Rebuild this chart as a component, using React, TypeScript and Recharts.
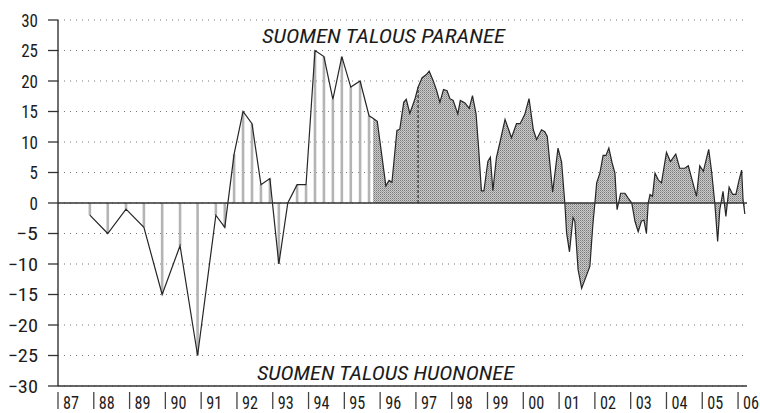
import {
  ComposedChart,
  Line,
  Area,
  XAxis,
  YAxis,
  CartesianGrid,
  ReferenceLine,
} from 'recharts';

// semiannual / quarterly readings 1987–1995 (hatched part)
const earlyYears = [
  1987.89, 1988.39, 1988.9, 1989.4, 1989.91, 1990.41, 1990.9, 1991.41, 1991.66, 1991.92,
  1992.17, 1992.42, 1992.67, 1992.92, 1993.17, 1993.42, 1993.68, 1993.93, 1994.18, 1994.43,
  1994.68, 1994.93, 1995.18, 1995.44, 1995.69,
];
const earlyValues = [
  -2, -5, -1, -4, -15, -7, -25, -2, -4, 8, 15, 13, 3, 4, -10, 0, 3, 3, 25, 24, 17, 24, 19, 20,
  14.3,
];

// monthly readings from late 1995 on (shaded part)
const monthlyYears = [
  1995.8, 1995.92, 1996.16, 1996.25, 1996.33, 1996.47, 1996.55, 1996.66, 1996.73, 1996.83,
  1996.97, 1997.06, 1997.17, 1997.3, 1997.37, 1997.48, 1997.58, 1997.67, 1997.77, 1997.87,
  1997.95, 1998.04, 1998.17, 1998.24, 1998.37, 1998.49, 1998.58, 1998.68, 1998.75, 1998.83,
  1998.9, 1999.01, 1999.08, 1999.15, 1999.25, 1999.35, 1999.49, 1999.67, 1999.81, 1999.91,
  2000.04, 2000.16, 2000.28, 2000.37, 2000.51, 2000.6, 2000.67, 2000.82, 2000.97, 2001.07,
  2001.16, 2001.21, 2001.29, 2001.39, 2001.44, 2001.53, 2001.63, 2001.86, 2001.94, 2002.0,
  2002.05, 2002.14, 2002.23, 2002.31, 2002.39, 2002.48, 2002.56, 2002.62, 2002.72, 2002.84,
  2002.93, 2003.03, 2003.12, 2003.21, 2003.3, 2003.37, 2003.44, 2003.49, 2003.54, 2003.61,
  2003.68, 2003.77, 2003.86, 2004.0, 2004.11, 2004.26, 2004.37, 2004.51, 2004.61, 2004.84,
  2004.93, 2005.03, 2005.18, 2005.26, 2005.35, 2005.43, 2005.49, 2005.58, 2005.66, 2005.75,
  2005.85, 2005.94, 2006.03, 2006.1, 2006.14, 2006.19,
];
const monthlyValues = [
  13.9, 13.4, 2.8, 3.7, 3.4, 11.9, 12.1, 16.5, 17, 14.7,
  17, 19, 20.5, 21.1, 21.6, 20.1, 18.4, 16.5, 18.6, 18.4,
  17.1, 16.8, 14.6, 16.8, 16.4, 15.5, 17.6, 14.6, 9.1, 2,
  2, 6.8, 7.5, 2, 7.5, 10, 13.7, 10.7, 13, 13,
  14.5, 17.1, 12, 10.4, 12, 11.7, 10.9, 1.8, 9, 6.7,
  0, -4.9, -8, -2.4, -3, -10.9, -14, -10.4, -3.8, 0,
  3.3, 4.9, 7.8, 7.8, 9, 6.6, 4.9, -1.1, 1.6, 1.6,
  0.8, 0, -3, -4.7, -3, -2.8, -5, 0, 1.4, 1.1,
  4.9, 3.8, 3.3, 8.3, 6.8, 8, 5.7, 5.7, 6.1, 1.1,
  6.1, 5.2, 8.8, 5.2, 0, -6.3, -1.1, 1.9, -2.2, 2.6,
  1.4, 1.4, 3.8, 5.4, 0.5, -1.8,
];

const yearTicks = [
  1987, 1988, 1989, 1990, 1991, 1992, 1993, 1994, 1995, 1996, 1997, 1998, 1999, 2000, 2001,
  2002, 2003, 2004, 2005, 2006,
];
const valueTicks = [-30, -25, -20, -15, -10, -5, 0, 5, 10, 15, 20, 25, 30];
const xDomain: [number, number] = [1987, 2006.25];
const yDomain: [number, number] = [-30, 30];
const markerYear = 1997.06;
const markerValue = 19;

const topLabel = 'SUOMEN TALOUS PARANEE';
const bottomLabel = 'SUOMEN TALOUS HUONONEE';

const early = earlyYears.map((x, i) => ({ x, v: earlyValues[i] }));
const monthly = monthlyYears.map((x, i) => ({ x, v: monthlyValues[i] }));
const all = [...early, ...monthly];

const FONT = "'Roboto Condensed', 'Arial Narrow', Roboto, sans-serif";
const INK = '#1c1c1c';
const FRAME = '#333';

function YearTick({ x, y, payload }: any) {
  const label = String(payload.value).slice(2);
  return (
    <g>
      <line x1={x} x2={x} y1={y + 6} y2={y + 23} stroke="#444" strokeWidth={1.3} />
      <text
        x={x + 5}
        y={y + 22.5}
        fontSize={18.5}
        fill={INK}
        fontFamily={FONT}
        textLength={16}
        lengthAdjust="spacingAndGlyphs"
      >
        {label}
      </text>
    </g>
  );
}

function ValueTick({ x, y, payload }: any) {
  const v: number = payload.value;
  const digits = String(Math.abs(v));
  const label = (v < 0 ? '\u2212' : '') + digits;
  const len = digits.length * 8.4 + (v < 0 ? 13.5 : 0);
  return (
    <text
      x={x}
      y={y}
      dy="0.36em"
      textAnchor="end"
      fontSize={18.5}
      fill={INK}
      fontFamily={FONT}
      textLength={len}
      lengthAdjust="spacingAndGlyphs"
    >
      {label}
    </text>
  );
}

export default function App() {
  return (
    <div style={{ position: 'absolute', left: 0, top: 0, width: 760, height: 413, background: '#fff', fontFamily: FONT }}>
      <ComposedChart
        width={760}
        height={413}
        data={all}
        margin={{ top: 20, right: 13, bottom: 0, left: 0 }}
      >
        <defs>
          <pattern id="stipple" width={2} height={2} patternUnits="userSpaceOnUse">
            <rect width={2} height={2} fill="#cacaca" />
            <rect width={1} height={1} fill="#7a7a7a" />
            <rect x={1} y={1} width={1} height={1} fill="#a0a0a0" />
          </pattern>
        </defs>
        <CartesianGrid vertical={false} stroke="#777" strokeDasharray="1 5" />
        <XAxis
          type="number"
          dataKey="x"
          domain={xDomain}
          ticks={yearTicks}
          interval={0}
          allowDataOverflow
          axisLine={{ stroke: FRAME, strokeWidth: 1.6 }}
          tickLine={false}
          tickSize={0}
          tickMargin={0}
          height={27}
          tick={<YearTick />}
        />
        <XAxis
          xAxisId="frameTop"
          orientation="top"
          type="number"
          dataKey="x"
          domain={xDomain}
          allowDataOverflow
          height={0}
          tick={false}
          tickLine={false}
          axisLine={{ stroke: FRAME, strokeWidth: 1.6 }}
        />
        <YAxis
          type="number"
          domain={yDomain}
          ticks={valueTicks}
          interval={0}
          width={58}
          tickSize={10}
          tickMargin={10}
          axisLine={{ stroke: FRAME, strokeWidth: 1.4 }}
          tickLine={{ stroke: FRAME, strokeWidth: 1.3 }}
          tick={<ValueTick />}
        />
        <YAxis
          yAxisId="frameRight"
          orientation="right"
          type="number"
          domain={yDomain}
          width={0}
          tick={false}
          tickLine={false}
          axisLine={{ stroke: '#444', strokeWidth: 1.4 }}
        />
        {early
          .filter((p) => p.v !== 0)
          .map((p) => (
            <ReferenceLine
              key={p.x}
              segment={[
                { x: p.x, y: 0 },
                { x: p.x, y: p.v },
              ]}
              stroke="#b4b4b4"
              strokeWidth={2.6}
            />
          ))}
        <Area
          data={monthly}
          dataKey="v"
          type="linear"
          baseValue={0}
          stroke="none"
          fill="url(#stipple)"
          fillOpacity={1}
          isAnimationActive={false}
        />
        <ReferenceLine
          segment={[
            { x: markerYear, y: 0 },
            { x: markerYear, y: markerValue },
          ]}
          stroke="#333"
          strokeWidth={1.2}
          strokeDasharray="3 2"
        />
        <Line
          data={all}
          dataKey="v"
          type="linear"
          stroke="#262626"
          strokeWidth={1.2}
          dot={false}
          isAnimationActive={false}
        />
        <ReferenceLine y={0} stroke={FRAME} strokeWidth={1.3} />
      </ComposedChart>
      <svg width={760} height={413} style={{ position: 'absolute', left: 0, top: 0, pointerEvents: 'none' }}>
        <text
          x={262}
          y={43}
          fontSize={21}
          fontStyle="italic"
          fill={INK}
          fontFamily={FONT}
          textLength={243}
          lengthAdjust="spacingAndGlyphs"
        >
          {topLabel}
        </text>
        <text
          x={257}
          y={380}
          fontSize={21}
          fontStyle="italic"
          fill={INK}
          fontFamily={FONT}
          textLength={257}
          lengthAdjust="spacingAndGlyphs"
        >
          {bottomLabel}
        </text>
      </svg>
    </div>
  );
}
